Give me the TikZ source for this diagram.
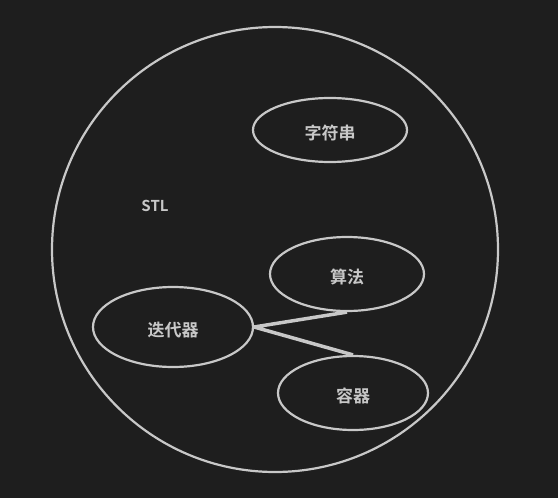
\documentclass[tikz,border=0pt]{standalone}
\usepackage{fontspec}
\newfontfamily\cjk{Noto Sans CJK SC}[BoldFont={* Bold}]
\usetikzlibrary{shapes.geometric,positioning}
\definecolor{bgdark}{HTML}{1E1E1E}
\definecolor{fgline}{HTML}{C8C8C8}

\begin{document}
\begin{tikzpicture}[
        x=1pt, y=-1pt,
        part/.style={draw=fgline, line width=2.2pt, ellipse, inner sep=0pt,
            text height=20pt, text depth=2pt,
            text=fgline, font=\cjk\bfseries\fontsize{17}{20}\selectfont},
        link/.style={draw=fgline, line width=3.5pt}
    ]
    \fill[bgdark] (0,0) rectangle (558,498);
    \useasboundingbox (0,0) rectangle (558,498);

%%
% Outer set and its label
    \node (stl) [part, minimum width=446pt, minimum height=445pt] at (275,249.5) {};
    \node (stltxt) [text=fgline, font=\cjk\bfseries\fontsize{15}{18}\selectfont] at (155,206) {STL};
%%
% Components
    \node (zfc) [part, minimum width=154pt, minimum height=64pt] at (330,130) {字符串};
    \node (sf)  [part, minimum width=154pt, minimum height=74pt] at (347,274) {算法};
    \node (ddq) [part, minimum width=160pt, minimum height=80pt] at (173,327) {迭代器};
    \node (rq)  [part, minimum width=150pt, minimum height=74pt] at (353,393) {容器};
    \path[link]
        (ddq.east) -- (sf.south)
        (ddq.east) -- (rq.north);

\end{tikzpicture}
\end{document}
